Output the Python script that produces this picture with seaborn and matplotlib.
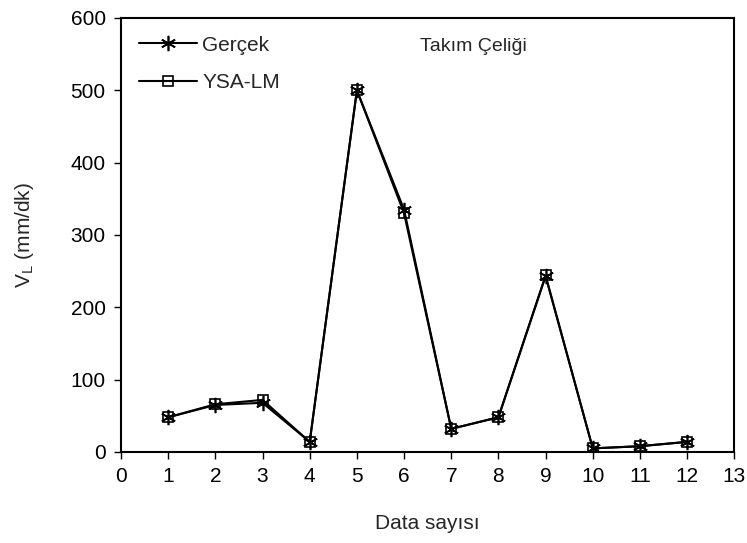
import matplotlib
matplotlib.use("Agg")
import matplotlib.pyplot as plt
import seaborn as sns
import pandas as pd

data_no = [1, 2, 3, 4, 5, 6, 7, 8, 9, 10, 11, 12]
gercek = [48, 65, 68, 14, 500, 335, 32, 48, 243, 5, 8, 14]
ysa_lm = [48, 66, 72, 14, 500, 330, 32, 48, 244, 5, 8, 14]
series_names = ["Gerçek", "YSA-LM"]
x_ticks = list(range(0, 14))
y_ticks = [0, 100, 200, 300, 400, 500, 600]

sns.set_theme(style="ticks")
plt.rcParams["font.family"] = ["Liberation Sans", "DejaVu Sans"]
plt.rcParams["mathtext.fontset"] = "custom"
plt.rcParams["mathtext.rm"] = "Liberation Sans"

df = pd.DataFrame({
    "x": data_no * 2,
    "y": gercek + ysa_lm,
    "seri": [series_names[0]] * len(data_no) + [series_names[1]] * len(data_no),
})

fig = plt.figure(figsize=(7.47, 5.43), dpi=100)
ax = fig.add_axes([0.162, 0.1676, 0.821, 0.7993])

for name, mk, ms, fc in [(series_names[0], (6, 2, 0), 11, "black"),
                         (series_names[1], "s", 7.5, "none")]:
    sub = df[df["seri"] == name]
    sns.lineplot(data=sub, x="x", y="y", ax=ax, color="black", linewidth=1.5,
                 marker=mk, markersize=ms, markerfacecolor=fc,
                 markeredgecolor="black", markeredgewidth=1.2, label=name)

ax.set_xlim(0, 13)
ax.set_ylim(0, 600)
ax.set_xticks(x_ticks)
ax.set_yticks(y_ticks)
ax.tick_params(axis="both", direction="out", length=5, width=1, labelsize=15,
               colors="black", pad=6)
for s in ax.spines.values():
    s.set_visible(True)
    s.set_color("black")
    s.set_linewidth(1.5)

ax.set_xlabel("Data sayısı", fontsize=15, labelpad=20)
ax.set_ylabel(r"V$_{\mathregular{L}}$ (mm/dk)", fontsize=15, labelpad=25)

ax.text(0.574, 0.935, "Takım Çeliği", transform=ax.transAxes, fontsize=14,
        ha="center", va="center")

leg = ax.legend(loc="upper left", frameon=False, fontsize=15, handlelength=2.8,
                handletextpad=0.25, labelspacing=0.9, borderpad=0.55,
                borderaxespad=0.3)

fig.savefig("out.png", dpi=100)
